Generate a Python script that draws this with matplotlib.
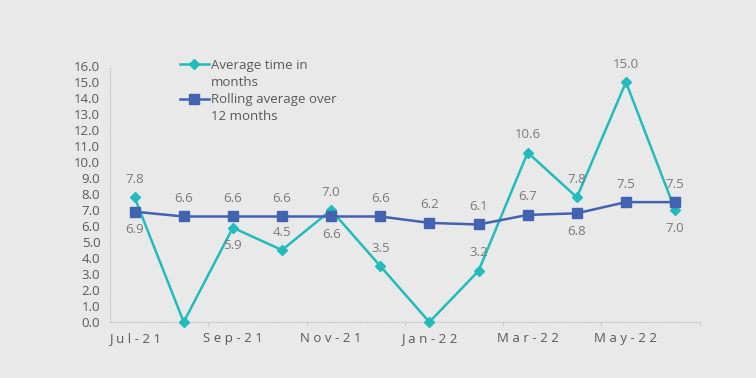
import matplotlib
matplotlib.use('Agg')
import matplotlib.pyplot as plt
from matplotlib.lines import Line2D
import numpy as np

months = ['Jul-21', 'Aug-21', 'Sep-21', 'Oct-21', 'Nov-21', 'Dec-21',
          'Jan-22', 'Feb-22', 'Mar-22', 'Apr-22', 'May-22', 'Jun-22']
avg_time = [7.8, 0.0, 5.9, 4.5, 7.0, 3.5, 0.0, 3.2, 10.6, 7.8, 15.0, 7.0]
rolling = [6.9, 6.6, 6.6, 6.6, 6.6, 6.6, 6.2, 6.1, 6.7, 6.8, 7.5, 7.5]
# label placement: 1 above, -1 below, 0 none
avg_pos = [1, 0, -1, 1, 1, 1, 0, 1, 1, 1, 1, -1]
roll_pos = [-1, 1, 1, 1, -1, 1, 1, 1, 1, -1, 1, 1]

bg = '#e9e9e9'
teal = '#22bcbc'
blue = '#4263b0'
txt = '#595959'
lbl = '#7a7a7a'
plt.rcParams['font.family'] = ['Open Sans', 'DejaVu Sans']

fig = plt.figure(figsize=(7.56, 3.78), dpi=100, facecolor=bg)
ax = fig.add_axes([0.1455, 0.148, 0.78, 0.677])
ax.set_facecolor(bg)

x = np.arange(len(months))
l1, = ax.plot(x, avg_time, color=teal, lw=1.8, marker='D', ms=5, clip_on=False, zorder=3)
l2, = ax.plot(x, rolling, color=blue, lw=1.8, marker='s', ms=6.5, clip_on=False, zorder=4)

for xi, v, p in zip(x, avg_time, avg_pos):
    if p:
        ax.annotate(f'{v:.1f}', (xi, v), xytext=(0, 13 * p), textcoords='offset points',
                    ha='center', va='center', fontsize=9.5, color=lbl)
for xi, v, p in zip(x, rolling, roll_pos):
    if p:
        ax.annotate(f'{v:.1f}', (xi, v), xytext=(0, 13 * p), textcoords='offset points',
                    ha='center', va='center', fontsize=9.5, color=lbl)

ax.set_xlim(-0.5, 11.5)
ax.set_ylim(0, 16)
ax.set_yticks(np.arange(0, 17, 1))
ax.set_yticklabels([f'{v:.1f}' for v in range(17)], fontsize=9.5, color=txt)
ax.set_xticks(x[::2])
ax.set_xticklabels([' '.join(m) for m in months[::2]], fontsize=9.5, color=txt)
ax.set_xticks(np.arange(1.5, 12, 2), minor=True)
ax.tick_params(axis='x', which='major', length=0, pad=7)
ax.tick_params(axis='x', which='minor', length=3, color='#c8c8c8')
ax.tick_params(axis='y', length=0, pad=7)
for s in ['top', 'right']:
    ax.spines[s].set_visible(False)
for s in ['left', 'bottom']:
    ax.spines[s].set_color('#c8c8c8')
    ax.spines[s].set_linestyle(':')
    ax.spines[s].set_linewidth(0.8)

# wrapped legend labels: handle sits on the first line only
blank = Line2D([], [], linestyle='none')
leg = ax.legend([l1, blank, l2, blank],
                ['Average time in', 'months', 'Rolling average over', '12 months'],
                loc='upper left', bbox_to_anchor=(0.098, 1.075), frameon=False, fontsize=9.5,
                handlelength=2.2, labelspacing=0.32, handletextpad=0.15)
for t in leg.get_texts():
    t.set_color(txt)

fig.savefig('out.png', dpi=100, facecolor=bg)
